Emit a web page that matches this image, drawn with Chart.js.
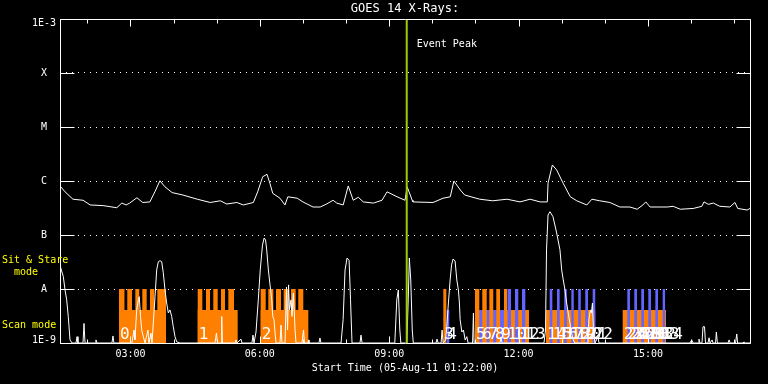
<!DOCTYPE html>
<html><head><meta charset="utf-8">
<script src="https://cdn.jsdelivr.net/npm/chart.js@4.4.1/dist/chart.umd.min.js"></script>
<style>html,body{margin:0;padding:0;background:#000;}canvas{display:block;}</style>
</head><body>
<canvas id="c" width="768" height="384"></canvas>
<script>
// ---- time axis: minutes since 00:00 UT, 05-Aug-11 ----
const startMin = 82, endMin = 1042;
const hourTicks = [120,180,240,300,360,420,480,540,600,660,720,780,840,900,960,1020];
const yDecades = [1e-9,1e-8,1e-7,1e-6,1e-5,1e-4,1e-3];
const yLabels  = ['1E-9','A','B','C','M','X','1E-3'];

// ---- GOES 14 long channel (1-8 A) [minute, W/m^2] ----
const longChannel = [[82,8.1e-7],[89,6.3e-7],[100,4.6e-7],[114,4.4e-7],[124,3.6e-7],[142,3.5e-7],[161,3.2e-7],[168,3.9e-7],[174,3.6e-7],[179,3.9e-7],
[189,4.9e-7],[197,4.0e-7],[207,4.1e-7],[214,6.3e-7],[221,1.01e-6],[228,7.8e-7],[238,6.1e-7],[253,5.5e-7],[273,4.6e-7],[291,4.0e-7],
[305,4.3e-7],[314,3.75e-7],[328,4.0e-7],[337,3.6e-7],[351,4.0e-7],[357,6.3e-7],[364,1.2e-6],[370,1.33e-6],[374,9.1e-7],[378,5.9e-7],
[388,4.8e-7],[395,3.6e-7],[399,5.1e-7],[412,4.8e-7],[420,4.1e-7],[434,3.3e-7],[444,3.3e-7],[453,3.75e-7],[462,4.4e-7],[467,3.9e-7],
[476,3.6e-7],[483,8.1e-7],[490,4.4e-7],[497,5.0e-7],[504,4.1e-7],[518,3.9e-7],[530,4.4e-7],[537,6.3e-7],[551,5.1e-7],[562,4.4e-7],
[565,7.8e-7],[572,4.4e-7],[573,4.1e-7],[601,4.0e-7],[615,4.8e-7],[625,5.1e-7],[630,1.0e-6],[639,6.8e-7],[645,5.5e-7],[666,4.6e-7],
[684,4.3e-7],[704,4.6e-7],[722,4.1e-7],[736,4.6e-7],[750,4.1e-7],[760,4.1e-7],[761,9.1e-7],[767,1.98e-6],[773,1.6e-6],[782,9.1e-7],
[792,5.1e-7],[801,4.3e-7],[815,3.6e-7],[822,4.6e-7],[833,4.3e-7],[847,4.0e-7],[861,3.3e-7],[875,3.3e-7],[885,3.0e-7],[893,3.6e-7],
[897,4.1e-7],[903,3.3e-7],[927,3.3e-7],[935,3.4e-7],[945,3.0e-7],[963,3.1e-7],[975,3.4e-7],[978,4.1e-7],[984,3.7e-7],[991,3.9e-7],
[1000,3.4e-7],[1014,3.3e-7],[1021,4.0e-7],[1025,3.1e-7],[1038,2.9e-7],[1042,3.1e-7]];

// ---- GOES 14 short channel (0.5-4 A) [minute, W/m^2] ----
const shortChannel = [[82,2.8e-8],[83.4,2.35e-8],[86.6,1.7e-8],[89,9.6e-9],[91.3,6.3e-9],[93.5,3.1e-9],[95.9,1.14e-9],[98.7,1e-9],
[104.3,1e-9],[105.7,1.31e-9],[107,1e-9],[114,1e-9],[115.4,2.3e-9],[116.8,1e-9],[131.4,1e-9],[132,1.14e-9],[133.5,1e-9],
[154.3,1e-9],[155.7,1.35e-9],[157,1e-9],[182,1e-9],[185,1.74e-9],[186.3,1.14e-9],[188.7,4.1e-9],[191,6.3e-9],[192.3,7.2e-9],
[194,3.1e-9],[195.7,1.74e-9],[197.9,1.31e-9],[200.3,1e-9],[204.4,1.74e-9],[205.8,1e-9],[208.6,1.53e-9],[210,1e-9],
[214.2,7.2e-9],[216.5,2.25e-8],[218.8,3.2e-8],[221.1,3.35e-8],[223.5,3.2e-8],[225.7,2.0e-8],[228.1,9.6e-9],[230.4,5.5e-9],
[232.7,3.6e-9],[235,4.1e-9],[237.4,3.1e-9],[239.6,2.0e-9],[242,1.31e-9],[244.4,1.05e-9],[249,1e-9],
[297.6,1e-9],[299.7,1.53e-9],[301,1e-9],[306,1e-9],[307,3.1e-9],[308,1e-9],[325.5,1e-9],[326.9,1.14e-9],[328.3,1e-9],
[333.8,1.18e-9],[335.2,1e-9],[349.1,1e-9],[350.5,1.4e-9],[351.9,1e-9],[354.7,1.6e-9],[357.9,6.3e-9],[360.6,2.25e-8],
[363.7,6.5e-8],[366,8.8e-8],[368,8.1e-8],[369.6,5.3e-8],[371.9,2.25e-8],[374.2,1.19e-8],[376.6,6.3e-9],[378,3.1e-9],
[379.8,2.7e-9],[381.2,1.53e-9],[382.6,1e-9],[388.1,1e-9],[389.5,2.15e-9],[390.9,1e-9],[395.1,1e-9],[397.1,1.09e-8],
[398.6,1.74e-9],[400,1.19e-8],[401.3,4.1e-9],[403.4,6.3e-9],[404.8,3.1e-9],[406.6,8.4e-9],[408,3.6e-9],[409,1.74e-9],
[410.4,1e-9],[418.7,1e-9],[420.8,1.74e-9],[422.2,1e-9],[427,1e-9],[427.8,1.14e-9],[428.4,1e-9],[442.3,1e-9],[443.7,1.24e-9],
[445.1,1e-9],[473,1e-9],[475.9,2.7e-9],[478.6,2.25e-8],[481.4,3.75e-8],[484.2,3.4e-8],[486.2,6.3e-9],[488.3,1e-9],
[499.4,1e-9],[500.8,1.4e-9],[502.2,1e-9],[547.8,1e-9],[550.6,6.3e-9],[552.7,9.6e-9],[554.8,1.74e-9],[556.2,1e-9],
[564.5,1e-9],[566.5,6.3e-9],[568,3.75e-8],[570,1.47e-8],[572.1,1.74e-9],[573.5,1e-9],[605.2,1e-9],[606.6,1.18e-9],[608,1e-9],
[612.2,1e-9],[613.6,1.74e-9],[615,1e-9],[618.5,1.14e-9],[620.1,2.0e-9],[622.4,5.5e-9],[624.8,1.47e-8],[626.8,2.8e-8],
[628.9,3.6e-8],[631.7,3.3e-8],[634.1,1.47e-8],[636.3,9.6e-9],[637.7,5.5e-9],[638.7,2.7e-9],[641.1,1.6e-9],[643.3,1.74e-9],
[645.7,1.14e-9],[648,1.31e-9],[649.8,1e-9],[656,1e-9],[657.2,3.6e-9],[658.1,1e-9],[694.2,1e-9],[695.6,1.3e-9],[697,1e-9],
[755.4,1e-9],[757.5,1.74e-9],[758.9,5.3e-8],[761,2.35e-7],[763.7,2.7e-7],[767.9,2.18e-7],[773,1.09e-7],[777.6,5.3e-8],
[780,2.25e-8],[782.2,1.47e-8],[784.6,9.6e-9],[786.9,5.5e-9],[789.1,3.6e-9],[791.5,2.3e-9],[793.8,1.53e-9],[796,1.14e-9],
[798.4,1e-9],[816.5,1e-9],[817.9,2.7e-9],[820,4.1e-9],[821.4,3.6e-9],[822.8,5.5e-9],[824.2,1.74e-9],[826.3,1e-9],
[830.5,1.3e-9],[831.9,1e-9],[958.5,1e-9],[960.9,1.14e-9],[962.7,1e-9],[969.7,1e-9],[971,1.18e-9],[972.4,1e-9],[975.2,1e-9],
[976.6,2.0e-9],[978.7,2.0e-9],[980.1,1e-9],[983.6,1e-9],[985,1.25e-9],[986.4,1e-9],[989.2,1.14e-9],[990.6,1e-9],[994.1,1e-9],
[995.2,1.6e-9],[996.6,1e-9],[1011.5,1e-9],[1012.9,1.14e-9],[1014.3,1e-9],[1021.9,1e-9],[1023.6,1.47e-9],[1024.7,1e-9],
[1032.3,1e-9],[1033.7,1.05e-9],[1035.1,1e-9],[1042,1e-9]];

// ---- observation modes: [start minute, end minute] ----
const floorFlux = 1e-9, levelTall = 1e-8, levelLow = 4.1e-9;
const scanBlocks = [[164.1,229.5],[273.6,329.2],[361.2,427.5],[659.4,734.5],[758.2,826.7],[864.9,925.1]];
const scanColumns = [[164.1,171.7],[175.6,182.2],[186.8,192.3],[196.5,202.6],[207.2,213.2],[217.4,229.5],
  [273.6,280],[285.1,290.7],[295.3,301.4],[306,311.6],[316.2,324.1],
  [361.2,368.2],[371.8,378.8],[382.5,389.5],[393.2,399.6],[403.4,409.9],[413.5,420.5],
  [615.3,619.5],[659.4,665.4],[669.5,675.7],[679.3,684.8],[689,694.2],[699.7,704.3]];
const stareLowColumns = [[619.5,623.6],[665.4,669.5],[675.7,679.3],[684.8,689],[694.2,699.7]];
const stareTallColumns = [[704.3,709.5],[715,719.6],[724.8,729.4],
  [763.3,767],[773.5,777.2],[783.5,787.1],[793.4,796.8],[803,806.6],[812.8,816.6],[823.1,826.7],
  [871.3,875],[881,884.8],[890.7,894.5],[900.5,904.3],[910.3,914],[920.5,924.1]];

// ---- observation numbers ----
const obsTimes = [164.1,273.6,361.2,615.3,619.5,
  659.4,668.2,676.9,685.7,694.4,703.2,711.9,720.7,729.4,
  758.2,766.3,774.4,782.5,790.7,798.8,806.9,815.0,823.1,
  864.9,869.9,875.0,880.0,885.1,890.1,895.2,900.2,905.3,910.3,915.4,920.5];
const obsNames = ['0','1','2','3','4','5','6','7','8','9','10','11','12','13',
  '14','15','16','17','18','19','20','21','22',
  '23','24','25','26','27','28','29','30','31','32','33','34'];

const eventPeakTime = 564.4;

// ---- build ----
const FONT = '"DejaVu Sans Mono", monospace';
const pts = arr => arr.map(p => ({x: p[0], y: p[1]}));
function blocks(list, level) {
  const out = [];
  list.forEach(([s, e]) => { out.push({x:s,y:floorFlux},{x:s,y:level},{x:e,y:level},{x:e,y:floorFlux}); });
  return out;
}
const areaDs = (data, color, order) => ({data, order, fill:'start', backgroundColor: color,
  borderColor:'rgba(0,0,0,0)', borderWidth:0, pointRadius:0, tension:0});
const ORANGE = 'rgb(255,128,0)', BLUE = 'rgb(100,100,255)';

const overlay = {
  id: 'overlay',
  beforeDraw(chart) { const c = chart.ctx; c.save(); c.fillStyle = '#000'; c.fillRect(0,0,chart.width,chart.height); c.restore(); },
  afterDatasetsDraw(chart) {
    const {ctx, chartArea: a, scales: {x, y}} = chart;
    ctx.save();
    // observation numbers
    ctx.fillStyle = '#fff'; ctx.font = '16px ' + FONT; ctx.textAlign = 'left'; ctx.textBaseline = 'alphabetic';
    obsTimes.forEach((t, i) => ctx.fillText(obsNames[i], x.getPixelForValue(t) + 1, a.bottom - 4));
    // frame and tick marks
    ctx.strokeStyle = '#fff'; ctx.lineWidth = 1;
    const L = Math.round(a.left) + 0.5, R = Math.round(a.right) + 0.5, T = Math.round(a.top) + 0.5, B = Math.round(a.bottom) + 0.5;
    ctx.beginPath();
    ctx.rect(L, T, R - L, B - T);
    hourTicks.forEach(t => {
      const px = Math.round(x.getPixelForValue(t)) + 0.5, len = (t % 180 === 0) ? 7 : 4;
      ctx.moveTo(px, T); ctx.lineTo(px, T + len);
      ctx.moveTo(px, B); ctx.lineTo(px, B - len);
    });
    yDecades.forEach(v => {
      const py = Math.round(y.getPixelForValue(v)) + 0.5;
      ctx.moveTo(L, py); ctx.lineTo(L + 14, py);
      ctx.moveTo(R - 14, py); ctx.lineTo(R, py);
    });
    ctx.stroke();
    // y-axis level labels (kept inside the axis span like the original)
    ctx.font = '10px ' + FONT; ctx.fillStyle = '#fff'; ctx.textAlign = 'center'; ctx.textBaseline = 'middle';
    yDecades.forEach((v, i) => {
      const py = Math.min(Math.max(y.getPixelForValue(v), a.top + 4), a.bottom - 3);
      ctx.fillText(yLabels[i], a.left - 16, py);
    });
    // event peak label
    ctx.textAlign = 'left'; ctx.textBaseline = 'alphabetic';
    ctx.fillText('Event Peak', x.getPixelForValue(eventPeakTime) + 10, a.top + 28);
    // mode labels
    ctx.fillStyle = 'rgb(255,255,0)';
    ctx.fillText('Sit & Stare', 2, 263);
    ctx.fillText('  mode', 2, 275);
    ctx.fillText('Scan mode', 2, 328);
    ctx.restore();
  }
};

new Chart(document.getElementById('c'), {
  type: 'line',
  data: { datasets: [
    areaDs(blocks(scanBlocks, levelLow), ORANGE, 6),
    areaDs(blocks(scanColumns, levelTall), ORANGE, 5),
    areaDs(blocks(stareLowColumns, levelLow), BLUE, 4),
    areaDs(blocks(stareTallColumns, levelTall), BLUE, 3),
    {data: pts(shortChannel), order: 2, borderColor:'#fff', borderWidth:1, pointRadius:0, tension:0, fill:false},
    {data: pts(longChannel), order: 1, borderColor:'#fff', borderWidth:1, pointRadius:0, tension:0, fill:false},
    {data: [{x:eventPeakTime,y:1e-9},{x:eventPeakTime,y:1e-3}], order: 0, borderColor:'rgb(160,205,0)', borderWidth:2, pointRadius:0, fill:false}
  ]},
  options: {
    responsive: false, animation: false, devicePixelRatio: 1,
    layout: { padding: {left:0, right:18, top:0, bottom:0} },
    plugins: {
      legend: {display:false}, tooltip: {enabled:false},
      title: { display:true, text:'GOES 14 X-Rays:', color:'#fff', fullSize:false,
        font:{family:FONT, size:12, weight:'normal'}, padding:{top:2, bottom:2.6} }
    },
    scales: {
      x: { type:'linear', position:'bottom', min:startMin, max:endMin,
        afterBuildTicks: s => { s.ticks = hourTicks.map(v => ({value:v})); },
        afterFit: s => { s.height = 41; },
        grid: {display:false, drawTicks:false, tickLength:0},
        border: {display:false},
        ticks: { color:'#fff', font:{family:FONT, size:10}, padding:5.5, autoSkip:false, maxRotation:0,
          callback: v => (v % 180 === 0) ? String(v/60).padStart(2,'0') + ':00' : '' },
        title: { display:true, text:'Start Time (05-Aug-11 01:22:00)', color:'#fff',
          font:{family:FONT, size:10}, padding:{top:0, bottom:10} }
      },
      y: { type:'logarithmic', position:'left', min:1e-9, max:1e-3,
        afterBuildTicks: s => { s.ticks = yDecades.map(v => ({value:v})); },
        afterFit: s => { s.width = 60; },
        grid: {color:'#fff', lineWidth:1, drawTicks:false, tickLength:0},
        border: {display:false, dash:[1,5]},
        ticks: { display:false }
      }
    }
  },
  plugins: [overlay]
});
</script>
</body></html>
